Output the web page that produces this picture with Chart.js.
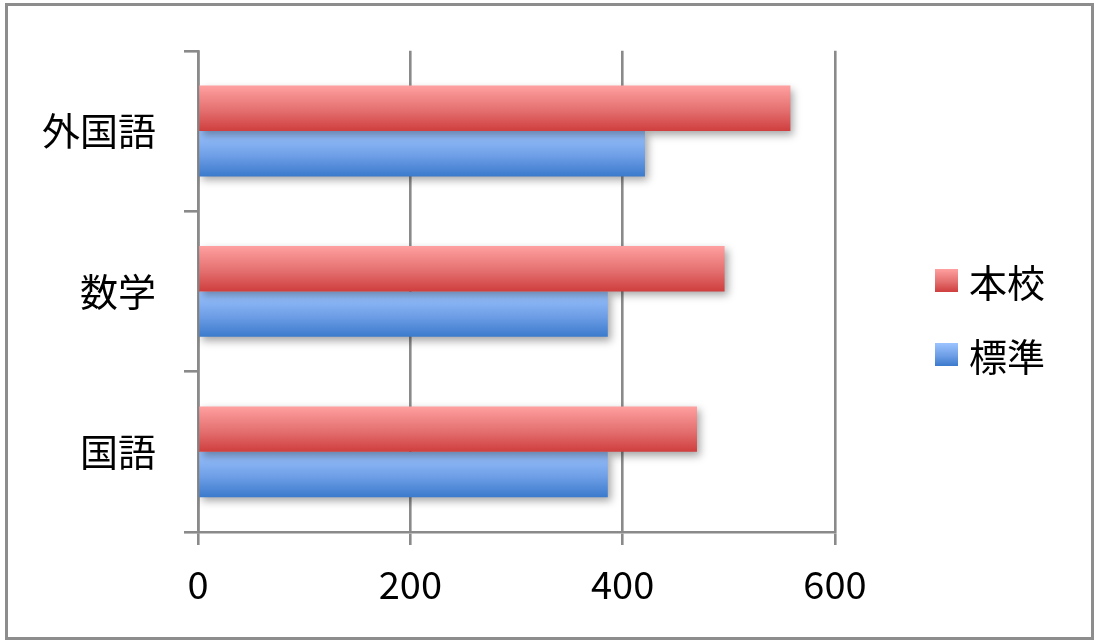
<!DOCTYPE html>
<html>
<head>
<meta charset="utf-8">
<script src="https://cdn.jsdelivr.net/npm/chart.js@4/dist/chart.umd.min.js"></script>
<style>
  html, body { margin: 0; padding: 0; background: #fff; }
  #wrap { position: relative; width: 1100px; height: 643px; }
  #frame { position: absolute; left: 5px; top: 3px; width: 1089px; height: 637px;
           box-sizing: border-box; border: 3px solid #8d8d8d; pointer-events: none; }
  canvas { position: absolute; left: 0; top: 0; }
  #legend { position: absolute; left: 935px; top: 253px; font-family: "Noto Sans CJK JP", sans-serif;
            font-size: 38px; color: #000; }
  .item { display: flex; align-items: center; height: 54px; margin-bottom: 20px; }
  .box { width: 23px; height: 23px; margin-right: 11px; }
</style>
</head>
<body>
<div id="wrap">
  <canvas id="c" width="1100" height="643"></canvas>
  <div id="frame"></div>
  <div id="legend"></div>
</div>
<script>
const categories = ['外国語', '数学', '国語'];
const seriesNames = ['本校', '標準'];
const honkou = [558, 496, 470];
const hyoujun = [421, 386, 386];
const xTicks = [0, 200, 400, 600];

const redStops = ['#ffa0a0', '#e46f6f', '#cf3e3e'];
const blueStops = ['#9cc4ff', '#6e9ee6', '#3b7acc'];
const catPct = 0.566;

function grad(stops) {
  return function (c) {
    const chart = c.chart;
    const ys = chart.scales && chart.scales.y;
    if (!chart.chartArea || !ys || c.dataIndex === undefined) return stops[1];
    const band = ys.height / categories.length;
    const th = band * catPct / 2;
    const center = ys.getPixelForValue(c.dataIndex);
    const top = c.datasetIndex === 0 ? center - th : center;
    const g = chart.ctx.createLinearGradient(0, top, 0, top + th);
    g.addColorStop(0, stops[0]);
    g.addColorStop(0.55, stops[1]);
    g.addColorStop(1, stops[2]);
    return g;
  };
}

const shadowPlugin = {
  id: 'shadow',
  beforeDatasetsDraw(chart) {
    const ctx = chart.ctx;
    ctx.save();
    ctx.shadowColor = 'rgba(0,0,0,0.35)';
    ctx.shadowBlur = 8;
    ctx.shadowOffsetX = 3;
    ctx.shadowOffsetY = 4;
  },
  afterDatasetsDraw(chart) {
    chart.ctx.restore();
  }
};

const gridColor = '#8a8a8a';
const font = { family: '"Noto Sans CJK JP", sans-serif', size: 38 };

new Chart(document.getElementById('c'), {
  type: 'bar',
  data: {
    labels: categories,
    datasets: [
      { label: seriesNames[0], data: honkou, backgroundColor: grad(redStops), borderWidth: 0 },
      { label: seriesNames[1], data: hyoujun, backgroundColor: grad(blueStops), borderWidth: 0 }
    ]
  },
  plugins: [shadowPlugin],
  options: {
    indexAxis: 'y',
    responsive: false,
    animation: false,
    devicePixelRatio: 1,
    categoryPercentage: catPct,
    barPercentage: 1,
    layout: { padding: { top: 50, right: 265, bottom: 0, left: 0 } },
    plugins: { legend: { display: false }, tooltip: { enabled: false } },
    scales: {
      x: {
        min: 0, max: 600,
        afterBuildTicks: (s) => { s.ticks = xTicks.map(v => ({ value: v })); },
        afterFit: (s) => { s.height = 111; },
        grid: { color: gridColor, lineWidth: 2.6, tickLength: 13, drawTicks: true },
        border: { display: true, color: gridColor, width: 2.6 },
        ticks: { color: '#000', font: font, padding: 17, maxRotation: 0 }
      },
      y: {
        afterFit: (s) => { s.width = 198; },
        grid: { color: gridColor, lineWidth: 2.6, tickLength: 14, drawOnChartArea: false, offset: true },
        border: { display: true, color: gridColor, width: 2.6 },
        ticks: { color: '#000', font: font, padding: 28 }
      }
    }
  }
});

// HTML legend
const legend = document.getElementById('legend');
[[seriesNames[0], redStops], [seriesNames[1], blueStops]].forEach(([name, st]) => {
  const it = document.createElement('div');
  it.className = 'item';
  const b = document.createElement('span');
  b.className = 'box';
  b.style.background = 'linear-gradient(' + st[0] + ',' + st[1] + ' 55%,' + st[2] + ')';
  const t = document.createElement('span');
  t.textContent = name;
  it.appendChild(b); it.appendChild(t);
  legend.appendChild(it);
});
</script>
</body>
</html>
